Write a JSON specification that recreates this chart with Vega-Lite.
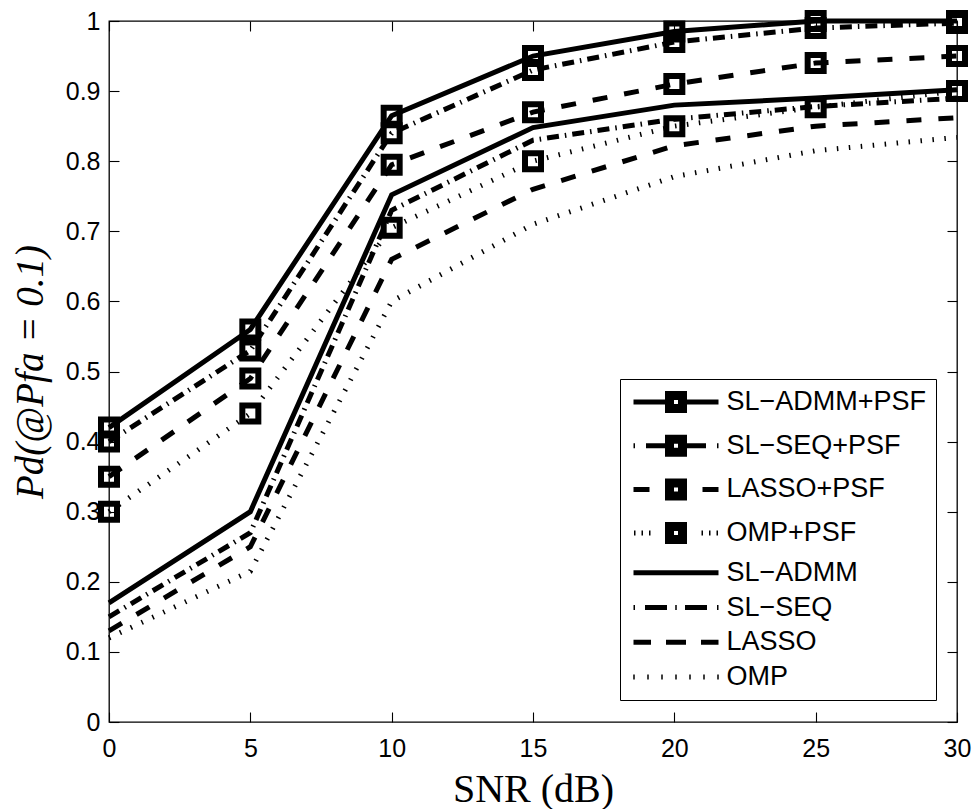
{
  "$schema": "https://vega.github.io/schema/vega-lite/v6.json",
  "width": 848,
  "height": 701,
  "autosize": "none",
  "padding": {"left": 109, "top": 21, "right": 18, "bottom": 87},
  "background": "white",
  "config": {
    "view": {"stroke": "black", "strokeWidth": 1.3},
    "axis": {
      "grid": false,
      "domain": false,
      "labelFont": "Liberation Sans",
      "labelFontSize": 25,
      "labelColor": "black",
      "labelFlush": false,
      "labelOverlap": false,
      "tickColor": "black",
      "tickWidth": 1.1,
      "tickSize": -10
    }
  },
  "datasets": {
    "curves": [
      {"series": "SL−ADMM+PSF", "snr": 0, "pd": 0.42},
      {"series": "SL−ADMM+PSF", "snr": 5, "pd": 0.56},
      {"series": "SL−ADMM+PSF", "snr": 10, "pd": 0.865},
      {"series": "SL−ADMM+PSF", "snr": 15, "pd": 0.95},
      {"series": "SL−ADMM+PSF", "snr": 20, "pd": 0.985},
      {"series": "SL−ADMM+PSF", "snr": 25, "pd": 1.0},
      {"series": "SL−ADMM+PSF", "snr": 30, "pd": 1.0},
      {"series": "SL−SEQ+PSF", "snr": 0, "pd": 0.40},
      {"series": "SL−SEQ+PSF", "snr": 5, "pd": 0.53},
      {"series": "SL−SEQ+PSF", "snr": 10, "pd": 0.84},
      {"series": "SL−SEQ+PSF", "snr": 15, "pd": 0.93},
      {"series": "SL−SEQ+PSF", "snr": 20, "pd": 0.97},
      {"series": "SL−SEQ+PSF", "snr": 25, "pd": 0.99},
      {"series": "SL−SEQ+PSF", "snr": 30, "pd": 0.997},
      {"series": "LASSO+PSF", "snr": 0, "pd": 0.35},
      {"series": "LASSO+PSF", "snr": 5, "pd": 0.49},
      {"series": "LASSO+PSF", "snr": 10, "pd": 0.795},
      {"series": "LASSO+PSF", "snr": 15, "pd": 0.87},
      {"series": "LASSO+PSF", "snr": 20, "pd": 0.91},
      {"series": "LASSO+PSF", "snr": 25, "pd": 0.94},
      {"series": "LASSO+PSF", "snr": 30, "pd": 0.95},
      {"series": "OMP+PSF", "snr": 0, "pd": 0.30},
      {"series": "OMP+PSF", "snr": 5, "pd": 0.44},
      {"series": "OMP+PSF", "snr": 10, "pd": 0.705},
      {"series": "OMP+PSF", "snr": 15, "pd": 0.80},
      {"series": "OMP+PSF", "snr": 20, "pd": 0.85},
      {"series": "OMP+PSF", "snr": 25, "pd": 0.877},
      {"series": "OMP+PSF", "snr": 30, "pd": 0.90},
      {"series": "SL−ADMM", "snr": 0, "pd": 0.17},
      {"series": "SL−ADMM", "snr": 5, "pd": 0.30},
      {"series": "SL−ADMM", "snr": 10, "pd": 0.752},
      {"series": "SL−ADMM", "snr": 15, "pd": 0.848},
      {"series": "SL−ADMM", "snr": 20, "pd": 0.88},
      {"series": "SL−ADMM", "snr": 25, "pd": 0.89},
      {"series": "SL−ADMM", "snr": 30, "pd": 0.902},
      {"series": "SL−SEQ", "snr": 0, "pd": 0.15},
      {"series": "SL−SEQ", "snr": 5, "pd": 0.27},
      {"series": "SL−SEQ", "snr": 10, "pd": 0.73},
      {"series": "SL−SEQ", "snr": 15, "pd": 0.83},
      {"series": "SL−SEQ", "snr": 20, "pd": 0.86},
      {"series": "SL−SEQ", "snr": 25, "pd": 0.878},
      {"series": "SL−SEQ", "snr": 30, "pd": 0.89},
      {"series": "LASSO", "snr": 0, "pd": 0.13},
      {"series": "LASSO", "snr": 5, "pd": 0.25},
      {"series": "LASSO", "snr": 10, "pd": 0.66},
      {"series": "LASSO", "snr": 15, "pd": 0.76},
      {"series": "LASSO", "snr": 20, "pd": 0.822},
      {"series": "LASSO", "snr": 25, "pd": 0.85},
      {"series": "LASSO", "snr": 30, "pd": 0.862},
      {"series": "OMP", "snr": 0, "pd": 0.12},
      {"series": "OMP", "snr": 5, "pd": 0.215},
      {"series": "OMP", "snr": 10, "pd": 0.60},
      {"series": "OMP", "snr": 15, "pd": 0.71},
      {"series": "OMP", "snr": 20, "pd": 0.778},
      {"series": "OMP", "snr": 25, "pd": 0.815},
      {"series": "OMP", "snr": 30, "pd": 0.834}
    ]
  },
  "data": {"name": "curves"},
  "resolve": {"axis": {"x": "independent", "y": "independent"}},
  "layer": [
    {
      "mark": {"type": "point", "opacity": 0, "filled": false, "color": "black", "strokeWidth": 5, "size": 100},
      "encoding": {
        "x": {"field": "snr", "type": "quantitative", "scale": {"domain": [0, 30], "nice": false},
          "axis": {"orient": "bottom", "values": [0, 5, 10, 15, 20, 25, 30], "labelPadding": 24,
            "title": "SNR (dB)", "titleFont": "Liberation Serif", "titleFontSize": 40, "titleFontWeight": "normal",
            "titleColor": "black", "titleY": 79, "titleBaseline": "alphabetic"}},
        "y": {"field": "pd", "type": "quantitative", "scale": {"domain": [0, 1], "nice": false},
          "axis": {"orient": "left", "values": [0, 0.1, 0.2, 0.3, 0.4, 0.5, 0.6, 0.7, 0.8, 0.9, 1], "format": ".1~f",
            "labelPadding": 19, "title": "Pd(@Pfa = 0.1)", "titleFont": "Liberation Serif", "titleFontSize": 39,
            "titleFontStyle": "italic", "titleFontWeight": "normal", "titleColor": "black", "titleX": -67, "titleBaseline": "alphabetic"}},
        "shape": {
          "field": "series", "type": "nominal",
          "scale": {
            "domain": ["SL−ADMM+PSF", "SL−SEQ+PSF", "LASSO+PSF", "OMP+PSF", "SL−ADMM", "SL−SEQ", "LASSO", "OMP"],
            "range": [
              "M-8.5,0H-1.7M1.7,0H8.5M-1.7,-1.7H1.7V1.7H-1.7ZM-0.9,-0.9H0.9V0.9H-0.9Z",
              "M-8.5,0H-8.2M-6,0H-1.7M1.7,0H6M8.2,0H8.5M-1.7,-1.7H1.7V1.7H-1.7ZM-0.9,-0.9H0.9V0.9H-0.9Z",
              "M-8.5,0H-5.3M5.3,0H8.5M-1.7,-1.7H1.7V1.7H-1.7ZM-0.9,-0.9H0.9V0.9H-0.9Z",
              "M-8.4,0H-8.1M-6.9,0H-6.6M-5.4,0H-5.1M5.1,0H5.4M6.6,0H6.9M8.1,0H8.4M-1.7,-1.7H1.7V1.7H-1.7ZM-0.9,-0.9H0.9V0.9H-0.9Z",
              "M-8.5,0H8.5",
              "M-8.5,0H-8.2M-6.2,0H-1.8M-0.15,0H0.15M1.8,0H6.2M8.2,0H8.5",
              "M-8.5,0H-5M-2,0H2M5,0H8.5",
              "M-8.55,0H-8.25M-5.75,0H-5.45M-2.95,0H-2.65M-0.15,0H0.15M2.65,0H2.95M5.45,0H5.75M8.25,0H8.55"
            ]
          },
          "legend": {
            "orient": "none", "legendX": 511, "legendY": 358, "title": null,
            "padding": 9.5, "rowPadding": 6.7,
            "strokeColor": "black", "fillColor": "white",
            "labelFont": "Liberation Sans", "labelFontSize": 27, "labelColor": "black", "labelLimit": 400,
            "symbolSize": 100, "symbolStrokeWidth": 5, "symbolStrokeColor": "black", "symbolFillColor": "transparent",
            "symbolOpacity": 1, "symbolOffset": 33, "labelOffset": 37
          }
        }
      }
    },
    {
      "transform": [{"filter": {"field": "series", "oneOf": ["SL−ADMM+PSF", "SL−ADMM"]}}],
      "mark": {"type": "line", "color": "black", "strokeWidth": 5, "strokeCap": "butt", "opacity": 1},
      "encoding": {
        "x": {"field": "snr", "type": "quantitative",
          "axis": {"orient": "top", "labels": false, "values": [0, 5, 10, 15, 20, 25, 30], "title": null}},
        "y": {"field": "pd", "type": "quantitative",
          "axis": {"orient": "right", "labels": false, "values": [0, 0.1, 0.2, 0.3, 0.4, 0.5, 0.6, 0.7, 0.8, 0.9, 1], "title": null}},
        "detail": {"field": "series", "type": "nominal"}
      }
    },
    {
      "transform": [{"filter": {"field": "series", "oneOf": ["SL−SEQ+PSF", "SL−SEQ"]}}],
      "mark": {"type": "line", "color": "black", "strokeWidth": 5, "strokeCap": "butt", "strokeDash": [12, 6, 1.5, 6], "opacity": 1},
      "encoding": {
        "x": {"field": "snr", "type": "quantitative", "axis": null},
        "y": {"field": "pd", "type": "quantitative", "axis": null},
        "detail": {"field": "series", "type": "nominal"}
      }
    },
    {
      "transform": [{"filter": {"field": "series", "oneOf": ["LASSO+PSF", "LASSO"]}}],
      "mark": {"type": "line", "color": "black", "strokeWidth": 5, "strokeCap": "butt", "strokeDash": [15, 17], "opacity": 1},
      "encoding": {
        "x": {"field": "snr", "type": "quantitative", "axis": null},
        "y": {"field": "pd", "type": "quantitative", "axis": null},
        "detail": {"field": "series", "type": "nominal"}
      }
    },
    {
      "transform": [{"filter": {"field": "series", "oneOf": ["OMP+PSF", "OMP"]}}],
      "mark": {"type": "line", "color": "black", "strokeWidth": 5, "strokeCap": "butt", "strokeDash": [1.5, 10.5], "opacity": 1},
      "encoding": {
        "x": {"field": "snr", "type": "quantitative", "axis": null},
        "y": {"field": "pd", "type": "quantitative", "axis": null},
        "detail": {"field": "series", "type": "nominal"}
      }
    },
    {
      "transform": [{"filter": {"field": "series", "oneOf": ["SL−ADMM+PSF", "SL−SEQ+PSF", "LASSO+PSF", "OMP+PSF"]}}],
      "mark": {"type": "point", "shape": "square", "size": 256, "filled": false, "stroke": "black", "strokeWidth": 6, "opacity": 1},
      "encoding": {
        "x": {"field": "snr", "type": "quantitative", "axis": null},
        "y": {"field": "pd", "type": "quantitative", "axis": null}
      }
    }
  ]
}
